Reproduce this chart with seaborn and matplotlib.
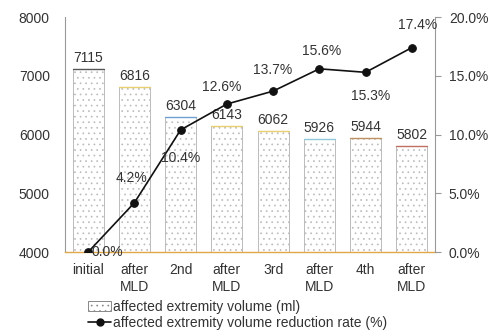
import numpy as np
import pandas as pd
import seaborn as sns
import matplotlib.pyplot as plt
from matplotlib.patches import Patch
from matplotlib.lines import Line2D

stages = ['initial', 'after\nMLD', '2nd', 'after\nMLD', '3rd', 'after\nMLD', '4th', 'after\nMLD']
volume = [7115, 6816, 6304, 6143, 6062, 5926, 5944, 5802]
rate = [0.0, 4.2, 10.4, 12.6, 13.7, 15.6, 15.3, 17.4]
top_colors = ['#555555', '#e8d070', '#6f9fd0', '#e8d070', '#e8d070', '#8fc8d8', '#c09060', '#c07060']

sns.set_style('white')
plt.rcParams['font.family'] = ['Liberation Sans', 'DejaVu Sans']
plt.rcParams['hatch.color'] = '#cccccc'
plt.rcParams['hatch.linewidth'] = 0.5

df = pd.DataFrame({'stage': range(len(stages)), 'volume': volume, 'rate': rate})

fig = plt.figure(figsize=(4.97, 3.36), dpi=100)
ax = fig.add_axes([0.131, 0.25, 0.744, 0.699])
txt = '#333333'

sns.barplot(data=df, x='stage', y='volume', color='white', edgecolor='#bbbbbb',
            linewidth=0.7, width=0.67, ax=ax)
for p, c in zip(ax.patches, top_colors):
    p.set_hatch('...')
    x0, w, h = p.get_x(), p.get_width(), p.get_height()
    ax.plot([x0, x0 + w], [h, h], color=c, lw=1.0, zorder=3)
ax.set_ylim(4000, 8000)
ax.set_xlim(-0.5, 7.5)
ax.set_yticks([4000, 5000, 6000, 7000, 8000])
ax.set_xticks(range(len(stages)))
ax.set_xticklabels(stages, fontsize=10, color=txt, linespacing=1.3)
ax.tick_params(axis='y', labelsize=10, labelcolor=txt, length=0, pad=11)
ax.tick_params(axis='x', length=0, pad=8)
ax.set_xlabel('')
ax.set_ylabel('')
for s in ['top', 'right']:
    ax.spines[s].set_visible(False)
ax.spines['left'].set_color('#999999')
ax.spines['left'].set_linewidth(0.8)
ax.spines['bottom'].set_color('#e0a848')
ax.spines['bottom'].set_linewidth(1.0)

for i, v in enumerate(volume):
    ax.text(i, v + 70, str(v), ha='center', va='bottom', fontsize=10, color=txt)

ax2 = ax.twinx()
sns.lineplot(data=df, x='stage', y='rate', color='#111111', lw=1.2, marker='o',
             markersize=5.5, markeredgecolor='#111111', ax=ax2)
ax2.set_ylim(0, 20)
ax2.set_yticks([0, 5, 10, 15, 20])
ax2.set_yticklabels(['0.0%', '5.0%', '10.0%', '15.0%', '20.0%'])
ax2.tick_params(axis='y', labelsize=10, labelcolor=txt, length=4, width=0.8,
                color='#999999', pad=6)
ax2.set_xlabel('')
ax2.set_ylabel('')
for s in ['top', 'left', 'bottom']:
    ax2.spines[s].set_visible(False)
ax2.spines['right'].set_color('#999999')
ax2.spines['right'].set_linewidth(0.8)
ax2.set_xlim(-0.5, 7.5)

# label offsets in points (dx, dy)
offs = [(14, 0), (-2, 18), (0, -20), (-4, 12), (0, 15), (2, 13), (4, -17), (4, 16)]
for i, (r, o) in enumerate(zip(rate, offs)):
    ax2.annotate(f'{r:.1f}%', (i, r), xytext=o, textcoords='offset points',
                 ha='center', va='center', fontsize=10, color=txt)

handles = [Patch(facecolor='white', edgecolor='#888888', hatch='...', linewidth=0.7),
           Line2D([], [], color='#111111', lw=1.2, marker='o', markersize=5)]
labels = ['affected extremity volume (ml)', 'affected extremity volume reduction rate (%)']
fig.legend(handles, labels, loc='upper left', bbox_to_anchor=(0.178, 0.107), frameon=False,
           fontsize=10, labelcolor=txt, handlelength=1.6, handletextpad=0.2,
           labelspacing=0.15, borderpad=0, borderaxespad=0)

fig.savefig('out.png', dpi=100)
